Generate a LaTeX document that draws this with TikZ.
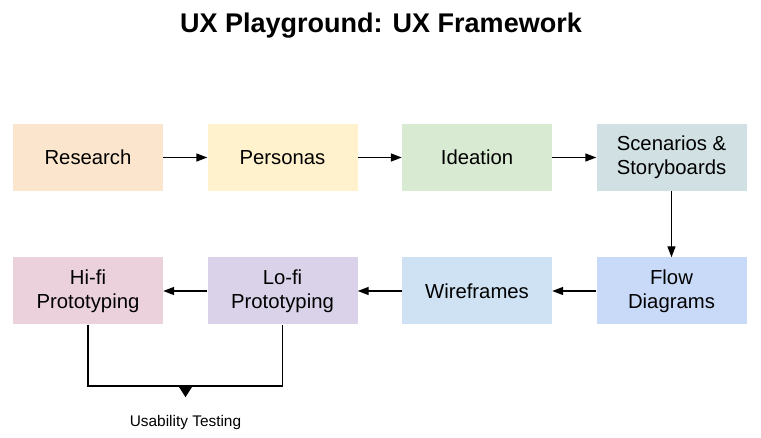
\documentclass[tikz,border=0pt]{standalone}
\usepackage{fontspec}
\setmainfont{Liberation Sans}
\usetikzlibrary{arrows.meta,shapes.geometric}

\definecolor{cResearch}{HTML}{FCE5CD}
\definecolor{cPersonas}{HTML}{FFF2CC}
\definecolor{cIdeation}{HTML}{D9EAD3}
\definecolor{cScenario}{HTML}{D0E0E3}
\definecolor{cFlow}{HTML}{C9DAF8}
\definecolor{cWire}{HTML}{CFE2F3}
\definecolor{cLofi}{HTML}{D9D2E9}
\definecolor{cHifi}{HTML}{EAD1DC}

\tikzset{
  stage/.style={rectangle, minimum width=150pt, minimum height=67pt, inner sep=0pt,
    align=center, font=\fontsize{20.3}{24}\selectfont, text=black},
  flow/.style={draw=black, line width=1.4pt, -{Triangle[length=11pt,width=8pt]}},
  joinline/.style={draw=black, line width=1.4pt},
}

\begin{document}
\begin{tikzpicture}[x=1pt,y=-1pt]
  \useasboundingbox (0,0) rectangle (761,438);

  % title
  \node[font=\fontsize{27}{32}\bfseries\selectfont, anchor=base] (title) at (381,33) {UX Playground: UX Framework};

  % first row of stages
  \node[stage, fill=cResearch] (research)  at (88,157.5)   {Research};
  \node[stage, fill=cPersonas] (personas)  at (282.5,157.5) {Personas};
  \node[stage, fill=cIdeation] (ideation)  at (477,157.5)  {Ideation};
  \node[stage, fill=cScenario] (scenarios) at (671.5,157.5) {Scenarios \&\\Storyboards};

  % second row of stages
  \node[stage, fill=cHifi] (hifi)  at (88,291)    {Hi-fi\\Prototyping};
  \node[stage, fill=cLofi] (lofi)  at (282.5,291) {Lo-fi\\Prototyping};
  \node[stage, fill=cWire] (wire)  at (477,291)   {Wireframes};
  \node[stage, fill=cFlow] (flowd) at (671.5,291) {Flow\\Diagrams};

  % process arrows
  \draw[flow] (research) -- (personas);
  \draw[flow] (personas) -- (ideation);
  \draw[flow] (ideation) -- (scenarios);
  \draw[flow] (scenarios) -- (flowd);
  \draw[flow] (flowd) -- (wire);
  \draw[flow] (wire) -- (lofi);
  \draw[flow] (lofi) -- (hifi);

  % prototypes merge into usability testing
  \coordinate (merge) at (185.5,386);
  \draw[joinline] (hifi.south) -- (hifi.south |- merge) -- (lofi.south |- merge) -- (lofi.south);
  \node[isosceles triangle, shape border rotate=-90, isosceles triangle apex angle=65,
        fill=black, inner sep=0pt, minimum width=14pt, minimum height=11pt, anchor=north]
        (tip) at (merge) {};
  \node[font=\fontsize{15.4}{18}\selectfont, anchor=base] (usability) at (185.5,427) {Usability Testing};
\end{tikzpicture}
\end{document}
